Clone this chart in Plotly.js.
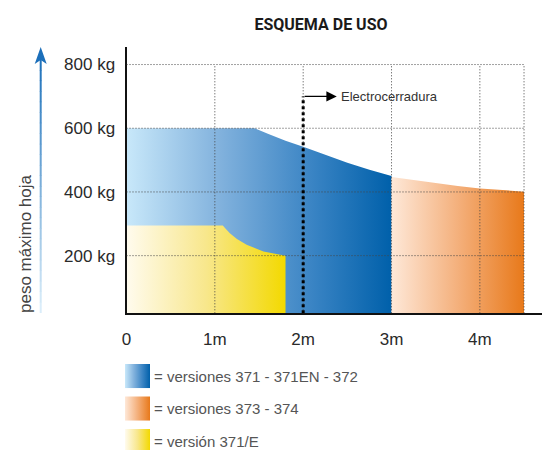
<!DOCTYPE html>
<html>
<head>
<meta charset="utf-8">
<script src="https://cdn.plot.ly/plotly-3.0.1.min.js"></script>
<style>html,body{margin:0;padding:0;background:#fff}#chart{width:548px;height:450px}</style>
</head>
<body>
<div id="chart"></div>
<script>
// ---- data ----
const chartTitle = "ESQUEMA DE USO";
const yAxisTitle = "peso máximo hoja";
const xTickVals = [0, 1, 2, 3, 4];
const xTickText = ["0", "1m", "2m", "3m", "4m"];
const yTickVals = [200, 400, 600, 800];
const yTickText = ["200 kg", "400 kg", "600 kg", "800 kg"];
const gridXVals = [1, 2, 3, 4, 4.5];

// versiones 371 - 371EN - 372 (blue)
const blueX = [0, 1.45, 1.6, 1.8, 2.0, 2.25, 2.5, 2.75, 3.0];
const blueY = [600, 600, 583, 561, 542, 516, 492, 470, 450];
// versiones 373 - 374 (orange)
const orangeX = [3.0, 3.25, 3.5, 3.75, 4.0, 4.25, 4.5];
const orangeY = [447, 437, 428, 419, 411, 405, 401];
// versión 371/E (yellow)
const yellowX = [0, 1.09, 1.12, 1.17, 1.25, 1.36, 1.55, 1.74, 1.80];
const yellowY = [295, 295, 285, 270, 252, 234, 213, 202, 200];

const electroX = 2;
const electroY = 700;
const electroLabel = "Electrocerradura";

const legendLabels = [
  "= versiones 371 - 371EN - 372",
  "= versiones 373 - 374",
  "= versión 371/E"
];

// ---- styles ----
const blueScale = [[0, '#c8e8fa'], [0.35, '#82b2dd'], [0.7, '#3a84c4'], [1, '#0060aa']];
const orangeScale = [[0, '#fee8d8'], [0.5, '#f4b07c'], [1, '#e8791a']];
const yellowScale = [[0, '#fffbee'], [0.5, '#f8e78c'], [1, '#f3d900']];
const scales = [blueScale, orangeScale, yellowScale];

const W = 548, H = 450;
const px = v => v / W;
const py = v => 1 - v / H;
const X_RANGE = [0, 4.7];
const Y_RANGE = [19, 856];
const font = 'Liberation Sans, Arial, sans-serif';

function area(xs, ys, scale) {
  return {
    type: 'scatter', mode: 'lines', x: xs, y: ys,
    fill: 'tozeroy', line: {width: 0, color: 'rgba(0,0,0,0)'},
    fillgradient: {type: 'horizontal', colorscale: scale,
      start: Math.min(...xs), stop: Math.max(...xs)},
    hoverinfo: 'skip', showlegend: false
  };
}

const traces = [
  area(blueX, blueY, blueScale),
  area(orangeX, orangeY, orangeScale),
  area(yellowX, yellowY, yellowScale)
];

// legend swatches on a hidden axis
legendLabels.forEach((lab, i) => {
  traces.push({
    type: 'scatter', mode: 'lines', xaxis: 'x2', yaxis: 'y2',
    x: [0, 1, 1, 0, 0], y: [i, i, i + 0.74, i + 0.74, i],
    fill: 'toself', line: {width: 0, color: 'rgba(0,0,0,0)'},
    fillgradient: {type: 'horizontal', colorscale: scales[i], start: 0, stop: 1},
    hoverinfo: 'skip', showlegend: false
  });
});

const shapes = [];
const gridLine = {color: '#444', width: 1, dash: '1px,2px'};
gridXVals.forEach(v => shapes.push({type: 'line', xref: 'x', yref: 'y', x0: v, x1: v,
  y0: Y_RANGE[0], y1: yTickVals[yTickVals.length - 1], line: gridLine, layer: 'above'}));
yTickVals.forEach(v => shapes.push({type: 'line', xref: 'x', yref: 'y', x0: 0,
  x1: gridXVals[gridXVals.length - 1], y0: v, y1: v, line: gridLine, layer: 'above'}));
// electrocerradura line
shapes.push({type: 'line', xref: 'x', yref: 'y', x0: electroX, x1: electroX,
  y0: Y_RANGE[0], y1: electroY, line: {color: '#000', width: 3, dash: 'dot'}, layer: 'above'});

// left gradient arrow (decoration)
const aBottom = 313, aTop = 60, aX = 40.7, N = 24;
const c0 = [222, 240, 251], c1 = [28, 112, 186];
for (let k = 0; k < N; k++) {
  const t = (k + 0.5) / N;
  const c = c0.map((v, j) => Math.round(v + (c1[j] - v) * t));
  const yA = aBottom - (aBottom - aTop) * k / N;
  const yB = aBottom - (aBottom - aTop) * (k + 1) / N - 0.5;
  shapes.push({type: 'line', xref: 'paper', yref: 'paper', x0: px(aX), x1: px(aX),
    y0: py(yA), y1: py(yB), line: {color: `rgb(${c.join(',')})`, width: 2}});
}
shapes.push({type: 'path', xref: 'paper', yref: 'paper',
  path: `M ${px(aX)} ${py(47)} L ${px(aX + 6)} ${py(64)} L ${px(aX)} ${py(60)} L ${px(aX - 6)} ${py(64)} Z`,
  fillcolor: '#1c6fba', line: {width: 0}});

const annotations = [
  {xref: 'x', yref: 'y', axref: 'x', ayref: 'y', x: 2.38, y: electroY, ax: electroX, ay: electroY,
   text: '', showarrow: true, arrowhead: 2, arrowsize: 1.6, arrowwidth: 1.3, arrowcolor: '#000'},
  {xref: 'x', yref: 'y', x: 2.41, y: electroY, xanchor: 'left', yanchor: 'middle',
   text: electroLabel, showarrow: false, font: {family: font, size: 13, color: '#333'}},
  {xref: 'paper', yref: 'paper', x: px(25.7), y: py(243.3), textangle: -90,
   text: yAxisTitle, showarrow: false, xanchor: 'center', yanchor: 'middle',
   font: {family: font, size: 17, color: '#444'}}
];
legendLabels.forEach((lab, i) => annotations.push({
  xref: 'paper', yref: 'paper', x: px(151.7), y: py(376 + 32.5 * i), xanchor: 'left', yanchor: 'middle',
  text: lab, showarrow: false, font: {family: font, size: 15, color: '#555'}}));

const layout = {
  width: W, height: H,
  margin: {l: 0, r: 0, t: 0, b: 0},
  paper_bgcolor: '#fff', plot_bgcolor: 'rgba(0,0,0,0)',
  title: {text: chartTitle, x: px(321), xanchor: 'center', y: py(24), yanchor: 'middle',
    font: {family: 'Roboto, DejaVu Sans, sans-serif', size: 16, weight: 'bold', color: '#1a1a1a'}},
  xaxis: {domain: [px(126.5), px(541.7)], range: X_RANGE, showgrid: false, zeroline: false,
    showline: true, linecolor: '#111', linewidth: 2, tickvals: xTickVals, ticktext: xTickText,
    ticks: '', ticklabelstandoff: 9, tickfont: {family: font, size: 17, color: '#2a2a2a'}, fixedrange: true},
  yaxis: {domain: [1 - 313.3 / H, 1 - 46.7 / H], range: Y_RANGE, showgrid: false, zeroline: false,
    showline: true, linecolor: '#111', linewidth: 2, tickvals: yTickVals, ticktext: yTickText,
    ticks: '', ticklabelstandoff: 6, tickfont: {family: font, size: 17, color: '#2a2a2a'}, fixedrange: true},
  xaxis2: {domain: [px(125), px(150)], range: [0, 1], visible: false, anchor: 'y2', fixedrange: true},
  yaxis2: {domain: [0, 1 - 364 / H], range: [(H - 364) / 32.5, 0], visible: false, anchor: 'x2', fixedrange: true},
  shapes: shapes,
  annotations: annotations,
  showlegend: false,
  hovermode: false
};

Plotly.newPlot('chart', traces, layout, {staticPlot: true, displayModeBar: false});
</script>
</body>
</html>
